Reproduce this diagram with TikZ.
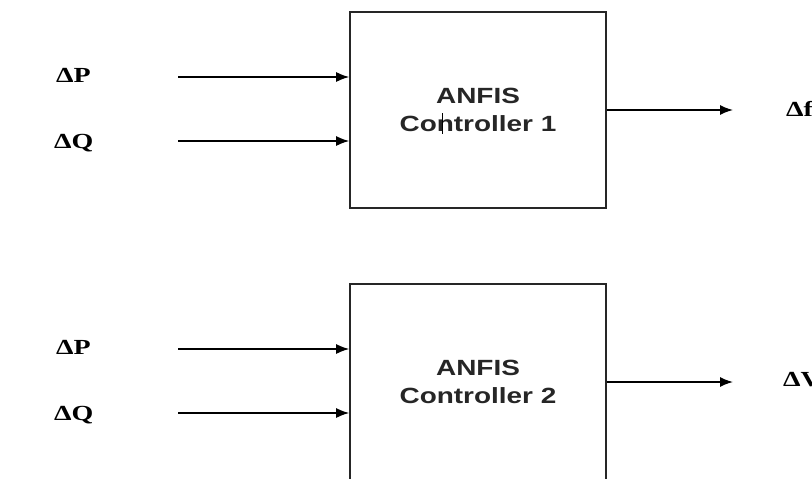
\documentclass[tikz,border=0pt]{standalone}
\usepackage{fontspec}
\setmainfont{Liberation Serif}
\newfontfamily\lblfont[FakeStretch=1.3]{Liberation Serif}
\newfontfamily\boxfont[FakeStretch=1.27]{Liberation Sans}
\usetikzlibrary{arrows.meta}
\begin{document}
\begin{tikzpicture}[x=1pt,y=-1pt,
  ctrl/.style={draw=black!85,line width=1.6pt,minimum width=256pt,minimum height=196pt,inner sep=0pt,
    align=center,font=\boxfont\bfseries\fontsize{22}{28}\selectfont,text=black!85},
  lbl/.style={anchor=base west,inner sep=0pt,font=\lblfont\bfseries\fontsize{21.5}{25}\selectfont},
  arr/.style={line width=1.5pt,-{Latex[length=13pt,width=10pt]}}]
\useasboundingbox (0,0) rectangle (812,479);
\clip (0,0) rectangle (812,479);
% controller 1
\node[ctrl] (b1) at (478,110) {ANFIS\\Controller 1};
\coordinate (p1s) at (178,77);
\coordinate (q1s) at (178,141);
\coordinate (o1e) at (733,110);
\node[lbl] (lp1) at (56,82) {ΔP};
\node[lbl] (lq1) at (54,148) {ΔQ};
\node[lbl] (lf) at (786,116) {Δf};
\draw[arr] (p1s) -- (p1s -| b1.west);
\draw[arr] (q1s) -- (q1s -| b1.west);
\draw[arr] (b1.east |- o1e) -- (o1e);
\coordinate (cur1) at (442,113);
\coordinate (cur2) at (442,134);
\draw[line width=0.9pt] (cur1) -- (cur2);
% controller 2
\node[ctrl] (b2) at (478,382) {ANFIS\\Controller 2};
\coordinate (p2s) at (178,349);
\coordinate (q2s) at (178,413);
\coordinate (o2e) at (733,382);
\node[lbl] (lp2) at (56,354) {ΔP};
\node[lbl] (lq2) at (54,420) {ΔQ};
\node[lbl] (lv) at (783,386) {ΔV};
\draw[arr] (p2s) -- (p2s -| b2.west);
\draw[arr] (q2s) -- (q2s -| b2.west);
\draw[arr] (b2.east |- o2e) -- (o2e);
\end{tikzpicture}
\end{document}
